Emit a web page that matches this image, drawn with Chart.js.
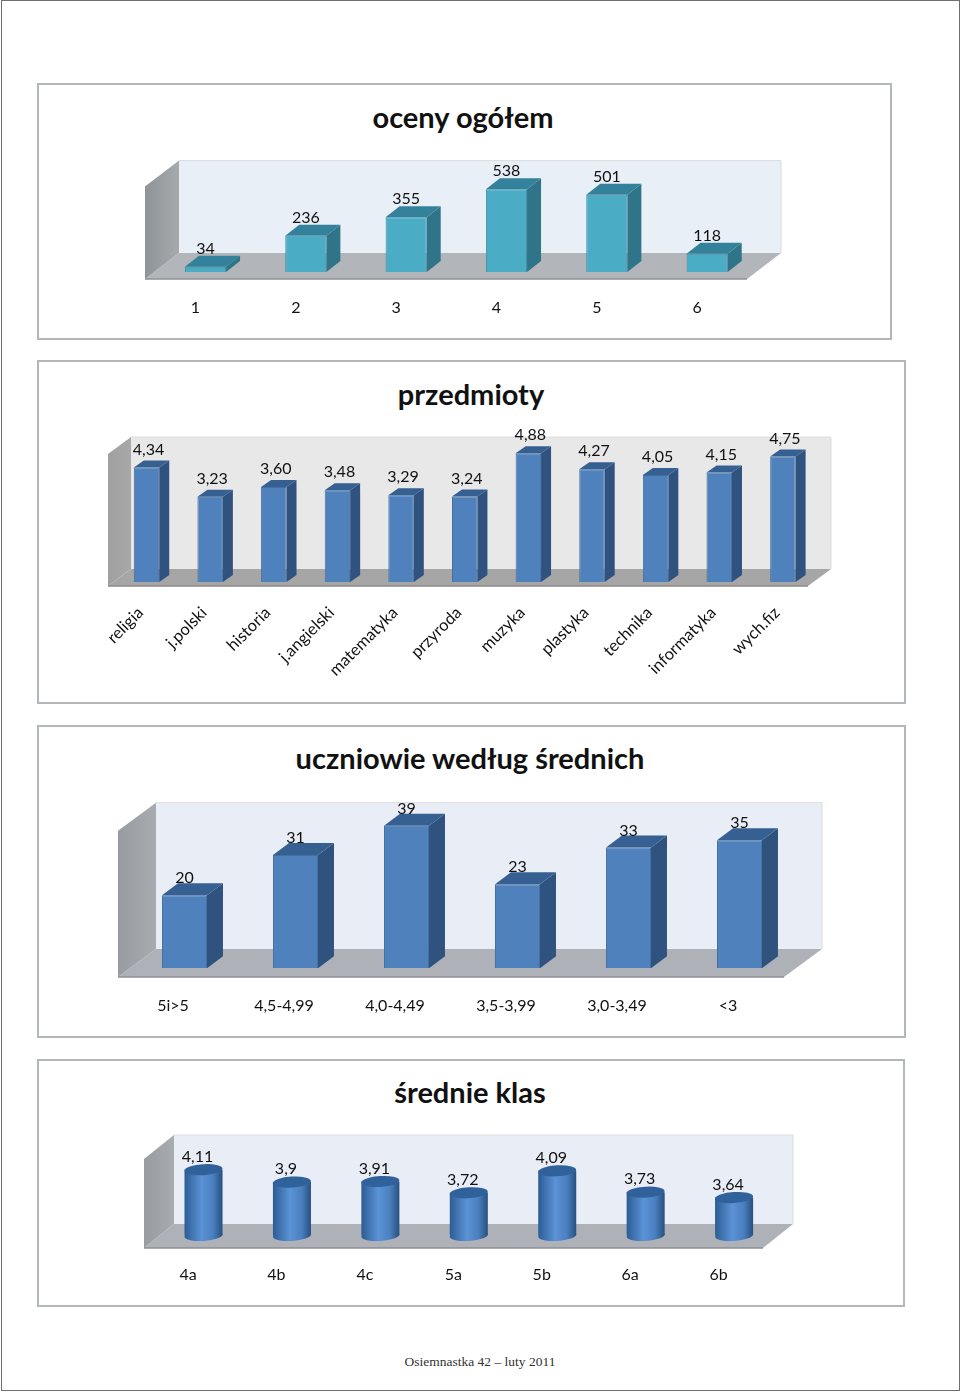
<!DOCTYPE html>
<html lang="pl">
<head>
<meta charset="utf-8">
<title>Osiemnastka 42</title>
<script src="https://cdn.jsdelivr.net/npm/chart.js@4"></script>
<style>
    html, body { margin: 0; padding: 0; background: #fff; }
    body { position: relative; width: 960px; height: 1393px; overflow: hidden; font-family: Lato, sans-serif; }
    #page { position: absolute; left: 1px; top: 0; width: 957px; height: 1389px; border: 1px solid #6f6f6f; }
    .frame { position: absolute; box-sizing: border-box; border: 2px solid #b4b7b9; }
    canvas { position: absolute; }
    .title { position: absolute; margin: 0; font: bold 29px Lato, sans-serif; color: #111; text-align: center; white-space: nowrap; transform: translate(-50%, -50%); }
    #footer { position: absolute; left: 480px; top: 1362px; transform: translate(-50%, -50%); font: 13.5px "Liberation Serif", serif; color: #333; white-space: nowrap; }
</style>
</head>
<body>
<div id="page"></div>
<div id="footer">Osiemnastka 42 – luty 2011</div>
<script>
// Chart data
const gradeLabels = ['1', '2', '3', '4', '5', '6'];
const gradeCounts = [34, 236, 355, 538, 501, 118];

const subjectLabels = ['religia', 'j.polski', 'historia', 'j.angielski', 'matematyka', 'przyroda', 'muzyka', 'plastyka', 'technika', 'informatyka', 'wych.fiz'];
const subjectAverages = [4.34, 3.23, 3.60, 3.48, 3.29, 3.24, 4.88, 4.27, 4.05, 4.15, 4.75];

const rangeLabels = ['5i>5', '4,5-4,99', '4,0-4,49', '3,5-3,99', '3,0-3,49', '<3'];
const studentCounts = [20, 31, 39, 23, 33, 35];

const classLabels = ['4a', '4b', '4c', '5a', '5b', '6a', '6b'];
const classAverages = [4.11, 3.9, 3.91, 3.72, 4.09, 3.73, 3.64];

function commaNumber(value, decimals) {
    const text = decimals ? value.toFixed(decimals) : String(value);
    return text.replace('.', ',');
}

function fillPolygon(ctx, points, fill) {
    ctx.fillStyle = fill;
    ctx.beginPath();
    points.forEach((p, i) => i ? ctx.lineTo(p[0], p[1]) : ctx.moveTo(p[0], p[1]));
    ctx.closePath();
    ctx.fill();
}

// Walls and floor behind the bars
function drawRoom(chart, look) {
    const { ctx, chartArea: area } = chart;
    const x0 = area.left - look.floorShift[0];
    const x1 = area.right - look.floorShift[0];
    const y0 = area.bottom + look.floorShift[1];
    const dx = look.roomDepth[0];
    const dy = look.roomDepth[1];
    const wallH = area.bottom - area.top;
    const backY = y0 - dy;

    ctx.save();
    fillPolygon(ctx, [[x0 + dx, backY - wallH], [x1 + dx, backY - wallH], [x1 + dx, backY], [x0 + dx, backY]], look.wall);
    ctx.strokeStyle = '#d9dcdf';
    ctx.lineWidth = 1;
    ctx.beginPath();
    ctx.moveTo(x0 + dx, backY - wallH);
    ctx.lineTo(x1 + dx, backY - wallH);
    ctx.lineTo(x1 + dx, backY);
    ctx.stroke();
    fillPolygon(ctx, [[x0, y0], [x1, y0], [x1 + dx, backY], [x0 + dx, backY]], look.floor);
    const side = ctx.createLinearGradient(x0, 0, x0 + dx, 0);
    side.addColorStop(0, look.side[0]);
    side.addColorStop(1, look.side[1]);
    fillPolygon(ctx, [[x0, y0], [x0 + dx, backY], [x0 + dx, backY - wallH], [x0, y0 - wallH]], side);
    ctx.strokeStyle = look.edge;
    ctx.lineWidth = 1.5;
    ctx.beginPath();
    ctx.moveTo(x0, y0);
    ctx.lineTo(x1, y0);
    ctx.stroke();
    ctx.restore();
}

function cylinderGradient(ctx, left, right) {
    const g = ctx.createLinearGradient(left, 0, right, 0);
    g.addColorStop(0, '#2c5c94');
    g.addColorStop(0.45, '#5b93d6');
    g.addColorStop(0.75, '#4a7fc0');
    g.addColorStop(1, '#27507f');
    return g;
}

function drawEllipse(ctx, x, y, rx, ry, fill) {
    ctx.fillStyle = fill;
    ctx.beginPath();
    ctx.ellipse(x, y, rx, ry, -0.06, 0, Math.PI * 2);
    ctx.fill();
}

const room3dPlugin = {
    id: 'room3d',
    beforeDatasetsDraw(chart, args, look) {
        drawRoom(chart, look);
        if (look.cylinder) {
            chart.getDatasetMeta(0).data.forEach(bar => {
                const r = bar.width / 2;
                drawEllipse(chart.ctx, bar.x, bar.base, r, look.ellipse,
                    cylinderGradient(chart.ctx, bar.x - r, bar.x + r));
            });
        }
    },
    afterDatasetsDraw(chart, args, look) {
        const ctx = chart.ctx;
        chart.getDatasetMeta(0).data.forEach((bar, i) => {
            const left = bar.x - bar.width / 2;
            const right = bar.x + bar.width / 2;
            if (look.cylinder) {
                drawEllipse(ctx, bar.x, bar.y, bar.width / 2, look.ellipse, look.topFace);
            } else {
                const dx = look.barDepth[0];
                const dy = look.barDepth[1];
                fillPolygon(ctx, [[right, bar.y], [right + dx, bar.y - dy], [right + dx, bar.base - dy], [right, bar.base]], look.sideFace);
                fillPolygon(ctx, [[left, bar.y], [left + dx, bar.y - dy], [right + dx, bar.y - dy], [right, bar.y]], look.topFace);
            }
            // value above the bar
            const value = chart.data.datasets[0].data[i];
            ctx.save();
            ctx.font = look.labelFont;
            ctx.fillStyle = '#111';
            ctx.textAlign = 'center';
            ctx.textBaseline = 'middle';
            ctx.fillText(commaNumber(value, look.decimals), bar.x + look.labelShift[0], bar.y + look.labelShift[1]);
            ctx.restore();
        });
    }
};

// frame is in page pixels, plot is the page box of the value axis
function makeChart(cfg) {
    const f = cfg.frame;
    const frame = document.createElement('div');
    frame.className = 'frame';
    frame.style.cssText = `left:${f.x}px;top:${f.y}px;width:${f.w}px;height:${f.h}px`;
    document.body.appendChild(frame);

    const title = document.createElement('h2');
    title.className = 'title';
    title.textContent = cfg.title;
    title.style.left = cfg.titleAt[0] + 'px';
    title.style.top = cfg.titleAt[1] + 'px';
    document.body.appendChild(title);

    const canvas = document.createElement('canvas');
    canvas.width = f.w;
    canvas.height = f.h;
    canvas.style.cssText = `left:${f.x}px;top:${f.y}px;width:${f.w}px;height:${f.h}px`;
    document.body.appendChild(canvas);

    new Chart(canvas.getContext('2d'), {
        type: 'bar',
        data: {
            labels: cfg.labels,
            datasets: [{
                data: cfg.values,
                base: cfg.yMin,
                backgroundColor: cfg.front,
                borderColor: cfg.frontBorder,
                borderWidth: cfg.frontBorder ? 1 : 0,
                barPercentage: cfg.barPercentage,
                categoryPercentage: 1
            }]
        },
        plugins: [room3dPlugin],
        options: {
            responsive: false,
            animation: false,
            events: [],
            layout: {
                padding: {
                    left: cfg.plot.left - f.x,
                    right: f.x + f.w - cfg.plot.right,
                    top: cfg.plot.top - f.y,
                    bottom: 0
                }
            },
            plugins: {
                legend: { display: false },
                tooltip: { enabled: false },
                room3d: cfg.look
            },
            scales: {
                x: {
                    grid: { display: false },
                    border: { display: false },
                    afterFit(scale) { scale.height = f.y + f.h - cfg.plot.bottom; },
                    ticks: {
                        autoSkip: false,
                        color: '#111',
                        font: { family: 'Lato', size: cfg.tickSize || 16 },
                        padding: cfg.tickPadding,
                        labelOffset: cfg.tickOffset,
                        maxRotation: cfg.tickRotation,
                        minRotation: cfg.tickRotation
                    }
                },
                y: { display: false, min: cfg.yMin, max: cfg.yMax }
            }
        }
    });
}

const labelFont = '16px Lato';

makeChart({
    title: 'oceny ogółem', titleAt: [463, 116],
    frame: { x: 37, y: 83, w: 855, h: 257 },
    plot: { left: 155.3, right: 757.3, top: 179.6, bottom: 272 },
    labels: gradeLabels, values: gradeCounts, yMin: 0, yMax: 600,
    barPercentage: 0.41, tickPadding: 18, tickOffset: -10, tickRotation: 0,
    front: '#4bacc6', frontBorder: '#3d8ea6',
    look: {
        floorShift: [10.3, 7], roomDepth: [34, 26], barDepth: [14, 11],
        wall: '#e9eff7', floor: '#b2b6ba', side: ['#8e9497', '#a6aaad'], edge: '#8d9093',
        sideFace: '#2f7489', topFace: '#34819b',
        labelFont, labelShift: [0, -18], decimals: 0
    }
});

makeChart({
    title: 'przedmioty', titleAt: [471, 393],
    frame: { x: 37, y: 360, w: 869, h: 344 },
    plot: { left: 114.7, right: 814.7, top: 450, bottom: 582 },
    labels: subjectLabels, values: subjectAverages, yMin: 0, yMax: 5,
    barPercentage: 0.4, tickPadding: 13, tickOffset: -6, tickRotation: 45, tickSize: 16.5,
    front: '#4f81bd', frontBorder: '#41709f',
    look: {
        floorShift: [6.7, 4], roomDepth: [23, 17], barDepth: [10, 7],
        wall: '#e8e8e8', floor: '#a6a6a6', side: ['#a0a0a0', '#a8a8a8'], edge: '#8a8a8a',
        sideFace: '#30527f', topFace: '#365f92',
        labelFont, labelShift: [2, -18], decimals: 2
    }
});

makeChart({
    title: 'uczniowie według średnich', titleAt: [470, 757],
    frame: { x: 37, y: 725, w: 869, h: 313 },
    plot: { left: 129, right: 795, top: 822, bottom: 968.3 },
    labels: rangeLabels, values: studentCounts, yMin: 0, yMax: 40,
    barPercentage: 0.405, tickPadding: 20, tickOffset: -11.5, tickRotation: 0,
    front: '#4f81bd', frontBorder: '#41709f',
    look: {
        floorShift: [11, 8.7], roomDepth: [38, 28], barDepth: [16, 12],
        wall: '#e9edf6', floor: '#aeb1b8', side: ['#989ba0', '#a8abb0'], edge: '#8c8f94',
        sideFace: '#30527f', topFace: '#365f92',
        labelFont, labelShift: [0, -17], decimals: 0
    }
});

makeChart({
    title: 'średnie klas', titleAt: [470, 1091],
    frame: { x: 37, y: 1059, w: 868, h: 248 },
    plot: { left: 159.3, right: 778.3, top: 1146.5, bottom: 1235.5 },
    labels: classLabels, values: classAverages, yMin: 3, yMax: 4.5,
    barPercentage: 0.43, tickPadding: 22, tickOffset: -15.5, tickRotation: 0,
    front: (context) => {
        const chart = context.chart;
        if (!chart.chartArea) return '#4f81bd';
        const x = chart.scales.x.getPixelForValue(context.dataIndex);
        const r = chart.scales.x.width / classLabels.length * 0.43 / 2;
        return cylinderGradient(chart.ctx, x - r, x + r);
    },
    look: {
        cylinder: true, ellipse: 5.5,
        floorShift: [15.3, 12.5], roomDepth: [30, 24],
        wall: '#e9edf6', floor: '#aeb1b8', side: ['#989ba0', '#a8abb0'], edge: '#8c8f94',
        topFace: '#31619b',
        labelFont, labelShift: [-6, -13], decimals: 0
    }
});
</script>
</body>
</html>
